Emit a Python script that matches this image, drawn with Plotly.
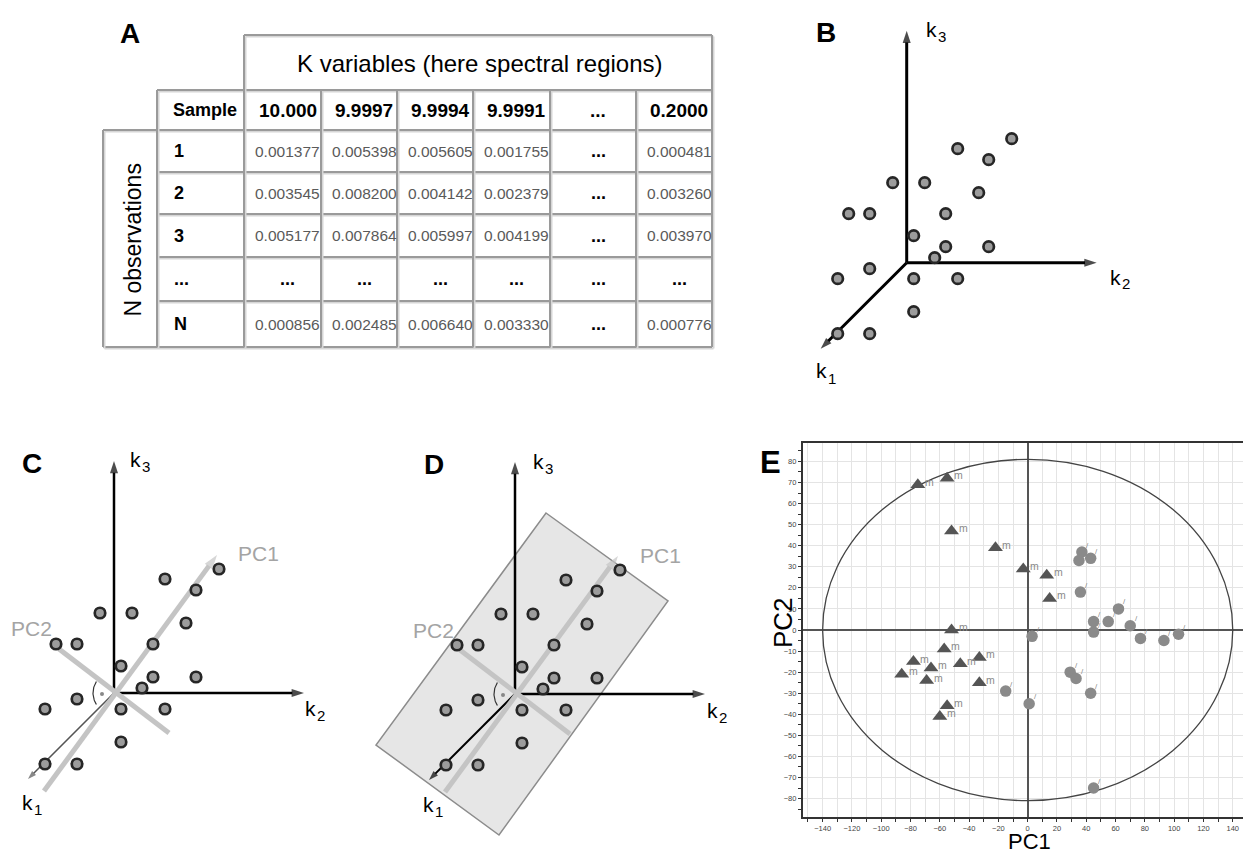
import numpy as np
import plotly.graph_objects as go

W, H = 1243, 854
FONT = "Liberation Sans, Arial, sans-serif"

# ---------------- Panel A : data table ----------------
header_title = "K variables (here spectral regions)"
first_col_title = "Sample"
side_title = "N observations"
col_headers = ["10.000", "9.9997", "9.9994", "9.9991", "...", "0.2000"]
row_labels = ["1", "2", "3", "...", "N"]
row_1 = ["0.001377", "0.005398", "0.005605", "0.001755", "...", "0.000481"]
row_2 = ["0.003545", "0.008200", "0.004142", "0.002379", "...", "0.003260"]
row_3 = ["0.005177", "0.007864", "0.005997", "0.004199", "...", "0.003970"]
row_dots = ["...", "...", "...", "...", "...", "..."]
row_N = ["0.000856", "0.002485", "0.006640", "0.003330", "...", "0.000776"]
table_rows = [row_1, row_2, row_3, row_dots, row_N]

# ---------------- Panels B-D : schematic sample cloud (k2 / k3 projection) ----
cloud_k2 = [105, 51, 82, -14, 18, 72, -58, -37, 39, 7, 39, 82, 28, -37, -69, 7, 51, 7, -69, -37]
cloud_k3 = [124, 114, 103, 80, 80, 70, 49, 49, 49, 27, 16, 16, 5, -6, -16, -16, -16, -49, -71, -71]

# ---------------- Panel E : PCA score plot ----------------
tri_pc1 = [-75, -55, -52, -22, -3, 13, 15, -52, -57, -78, -86, -66, -69, -46, -33, -33, -55, -60]
tri_pc2 = [69, 72, 47, 39, 29, 26, 15, 0, -9, -15, -21, -18, -24, -16, -13, -25, -36, -41]
circ_pc1 = [37, 35, 43, 36, 62, 55, 45, 45, 70, 77, 93, 103, 3, 29, 33, 43, -15, 1, 45]
circ_pc2 = [37, 33, 34, 18, 10, 4, 4, -1, 2, -4, -5, -2, -3, -20, -23, -30, -29, -35, -75]
tri_label = "m"
circ_label = "/"
ellipse_pc1_radius = 140
ellipse_pc2_radius = 81

# ======================================================================
def P(x, y):
    return x / W, 1 - y / H

def dom_x(x0, x1):
    return [x0 / W, x1 / W]

def dom_y(y0, y1):
    return [1 - y1 / H, 1 - y0 / H]

fig = go.Figure()
annotations = []
shapes = []

def txt(x, y, text, size, color="black", bold=False, xanchor="center", yanchor="middle", angle=0,
        xref="paper", yref="paper", family=FONT, xshift=0, yshift=0):
    if xref == "paper":
        x, y = P(x, y)
    annotations.append(dict(x=x, y=y, xref=xref, yref=yref, text=(f"<b>{text}</b>" if bold else text),
                            showarrow=False, xanchor=xanchor, yanchor=yanchor, textangle=angle,
                            xshift=xshift, yshift=yshift,
                            font=dict(size=size, color=color, family=family)))

# ---------------- Panel A drawing ----------------
col_x = [157, 244, 321, 397, 473, 550, 636, 712]
row_y = [90, 130, 172, 214, 257, 301, 347]
header_top, side_left = 35, 103

def tline(x0, y0, x1, y1):
    for dx, col in ((1.5, "#d6d6d6"), (0, "#9a9a9a")):
        shapes.append(dict(type="line", xref="x2", yref="y2", x0=x0 + dx, y0=y0 + dx, x1=x1 + dx, y1=y1 + dx,
                           line=dict(color=col, width=2), layer="above"))

tline(col_x[1], header_top, col_x[-1], header_top)
tline(col_x[0], row_y[0], col_x[-1], row_y[0])
tline(side_left, row_y[1], col_x[-1], row_y[1])
for yy in row_y[2:-1]:
    tline(col_x[0], yy, col_x[-1], yy)
tline(side_left, row_y[-1], col_x[-1], row_y[-1])
tline(side_left, row_y[1], side_left, row_y[-1])
tline(col_x[0], row_y[0], col_x[0], row_y[-1])
tline(col_x[1], header_top, col_x[1], row_y[-1])
for xx in col_x[2:-1]:
    tline(xx, row_y[0], xx, row_y[-1])
tline(col_x[-1], header_top, col_x[-1], row_y[-1])

txt((col_x[1] + col_x[-1]) / 2 + 2, (header_top + row_y[0]) / 2 + 1, header_title, 24, xref="x2", yref="y2")
txt(col_x[0] + 14, (row_y[0] + row_y[1]) / 2, first_col_title, 18, bold=True, xanchor="left", xref="x2", yref="y2")
for j, h in enumerate(col_headers):
    cx = (col_x[j + 1] + col_x[j + 2]) / 2 + 5
    txt(cx, (row_y[0] + row_y[1]) / 2, h, 19, bold=True, xref="x2", yref="y2")
for i, (lab, row) in enumerate(zip(row_labels, table_rows)):
    cy = (row_y[i + 1] + row_y[i + 2]) / 2
    txt(col_x[0] + 15, cy, lab, 18, bold=True, xanchor="left", xref="x2", yref="y2")
    for j, v in enumerate(row):
        cx = (col_x[j + 1] + col_x[j + 2]) / 2 + 5
        if v == "...":
            txt(cx, cy, v, 18, bold=True, xref="x2", yref="y2")
        else:
            txt(cx, cy, v, 15.5, color="#5a5a5a", xref="x2", yref="y2")
txt((side_left + col_x[0]) / 2 + 2, (row_y[1] + row_y[-1]) / 2 + 2, side_title, 23, angle=-90, xref="x2", yref="y2")

# ---------------- Panels B, C, D ----------------
AX_K3, AX_K2, AX_K1 = 232, 190, -86
panels = {
    "B": dict(ax="3", box=(790, 10, 1180, 400), origin=(906.7, 262.7)),
    "C": dict(ax="4", box=(0, 440, 350, 840), origin=(114, 693)),
    "D": dict(ax="5", box=(360, 440, 740, 850), origin=(515, 694)),
}

def arrow_line(ax, xs, ys, color, width, head):
    fig.add_trace(go.Scatter(
        x=xs, y=ys, xaxis="x" + ax, yaxis="y" + ax, mode="lines+markers",
        line=dict(color=color, width=width),
        marker=dict(symbol=["circle", "arrow"], size=[0, head], color=color, angleref="previous",
                    line=dict(width=0)),
        hoverinfo="skip", cliponaxis=False))

arc_t = np.radians(np.linspace(147, 213, 30))
for name, p in panels.items():
    ax = p["ax"]
    x0, y0, x1, y1 = p["box"]
    ox, oy = p["origin"]
    if name == "D":
        shapes.append(dict(type="path", xref="x5", yref="y5",
                           path="M 31,181 L 153,93 L -16,-141 L -139,-51 Z",
                           fillcolor="#e6e6e6", line=dict(color="#8c8c8c", width=1.5), layer="below"))
    w = 3 if name == "B" else 2.5
    arrow_line(ax, [0, 0], [0, AX_K3], "black", w, 13)
    arrow_line(ax, [0, AX_K2], [0, 0], "black", w, 13)
    if name == "C":
        arrow_line(ax, [0, AX_K1], [0, AX_K1], "#555555", 1.5, 9)
    elif name == "D":
        arrow_line(ax, [0, AX_K1], [0, AX_K1], "black", 2, 10)
    else:
        arrow_line(ax, [0, AX_K1], [0, AX_K1], "black", w, 12)
    if name in ("C", "D"):
        arrow_line(ax, [-70, 103], [-98, 138], "#c4c4c4", 5, 15)
        fig.add_trace(go.Scatter(x=[-55, 55], y=[44, -40], xaxis="x" + ax, yaxis="y" + ax, mode="lines",
                                 line=dict(color="#c4c4c4", width=5), hoverinfo="skip"))
        fig.add_trace(go.Scatter(x=21 * np.cos(arc_t), y=21 * np.sin(arc_t), xaxis="x" + ax, yaxis="y" + ax,
                                 mode="lines", line=dict(color="#333333", width=1.2), hoverinfo="skip"))
        fig.add_trace(go.Scatter(x=[-12], y=[-1], xaxis="x" + ax, yaxis="y" + ax, mode="markers",
                                 marker=dict(size=4, color="#888888"), hoverinfo="skip"))
    fig.add_trace(go.Scatter(x=cloud_k2, y=cloud_k3, xaxis="x" + ax, yaxis="y" + ax, mode="markers",
                             marker=dict(size=10.5, color="#9c9c9c", line=dict(color="#262626", width=2.7)),
                             hoverinfo="skip", cliponaxis=False))
    fig.update_layout(**{
        "xaxis" + ax: dict(domain=dom_x(x0, x1), range=[x0 - ox, x1 - ox], visible=False, anchor="y" + ax),
        "yaxis" + ax: dict(domain=dom_y(y0, y1), range=[oy - y1, oy - y0], visible=False, anchor="x" + ax),
    })

# panel texts
for lab, (x, y) in {"A": (130, 33), "B": (826, 32), "C": (32, 463), "D": (434, 464)}.items():
    txt(x, y, lab, 28, bold=True)
txt(770, 462, "E", 31, bold=True)
k_labels = {
    "B": [(936, 31, "3"), (1120, 279, "2"), (826, 373, "1")],
    "C": [(140, 461, "3"), (315, 710, "2"), (32, 804, "1")],
    "D": [(543, 463, "3"), (717, 712, "2"), (433, 806, "1")],
}
for name, labs in k_labels.items():
    for x, y, s in labs:
        txt(x - 5, y - 2, "k", 21)
        txt(x + 6, y + 5, s, 15)
for x, y, t in [(258, 553, "PC1"), (32, 628, "PC2"), (660, 555, "PC1"), (433, 630, "PC2")]:
    txt(x, y, t, 21, color="#a4a4a4")

# ---------------- Panel E ----------------
fig.add_trace(go.Scatter(x=tri_pc1, y=tri_pc2, mode="markers",
                         marker=dict(symbol="triangle-up", size=13, color="#555555"), hoverinfo="skip"))
fig.add_trace(go.Scatter(x=circ_pc1, y=circ_pc2, mode="markers",
                         marker=dict(symbol="circle", size=11.5, color="#8a8a8a"), hoverinfo="skip"))
for xv, yv in zip(tri_pc1, tri_pc2):
    txt(xv, yv, tri_label, 10.5, color="#8a8a8a", xref="x", yref="y", xanchor="left", xshift=5, yshift=3)
for xv, yv in zip(circ_pc1, circ_pc2):
    txt(xv, yv, circ_label, 8, color="#8a8a8a", xref="x", yref="y", xshift=6, yshift=7)
shapes.append(dict(type="circle", xref="x", yref="y", x0=-ellipse_pc1_radius, x1=ellipse_pc1_radius,
                   y0=-ellipse_pc2_radius, y1=ellipse_pc2_radius, line=dict(color="#444444", width=1.3),
                   layer="between"))
txt(1029, 841, "PC1", 22)
txt(783, 623, "PC2", 26, angle=-90)

grid = "#e4e4e4"
fig.update_layout(
    xaxis=dict(domain=[802.7 / W, 1], range=[-153.6, 147], dtick=20, tick0=0, ticks="outside", ticklen=3,
               tickcolor="#333", showgrid=True, gridcolor=grid, gridwidth=1,
               minor=dict(dtick=10, showgrid=True, gridcolor=grid, ticks="outside", ticklen=3, tickcolor="#333"),
               zeroline=True, zerolinecolor="#555555", zerolinewidth=2,
               showline=True, linecolor="#333333", linewidth=1.5, mirror=True,
               tickfont=dict(size=7.5, color="#444444"), anchor="y", fixedrange=True),
    yaxis=dict(domain=dom_y(442.7, 817.3), range=[-88.9, 88.9], dtick=10, tick0=0, ticks="outside", ticklen=3,
               tickcolor="#333", showgrid=True, gridcolor=grid, gridwidth=1,
               minor=dict(dtick=5, showgrid=False, ticks="outside", ticklen=3, tickcolor="#333"),
               zeroline=True, zerolinecolor="#555555", zerolinewidth=2,
               showline=True, linecolor="#333333", linewidth=1.5,
               tickfont=dict(size=7.5, color="#444444"), anchor="x", fixedrange=True),
    xaxis2=dict(domain=dom_x(90, 730), range=[90, 730], visible=False, anchor="y2"),
    yaxis2=dict(domain=dom_y(10, 370), range=[370, 10], visible=False, anchor="x2"),
)

fig.update_layout(width=W, height=H, margin=dict(l=0, r=0, t=0, b=0), showlegend=False,
                  paper_bgcolor="white", plot_bgcolor="white", font=dict(family=FONT),
                  annotations=annotations, shapes=shapes)
fig.write_html("out.html")
